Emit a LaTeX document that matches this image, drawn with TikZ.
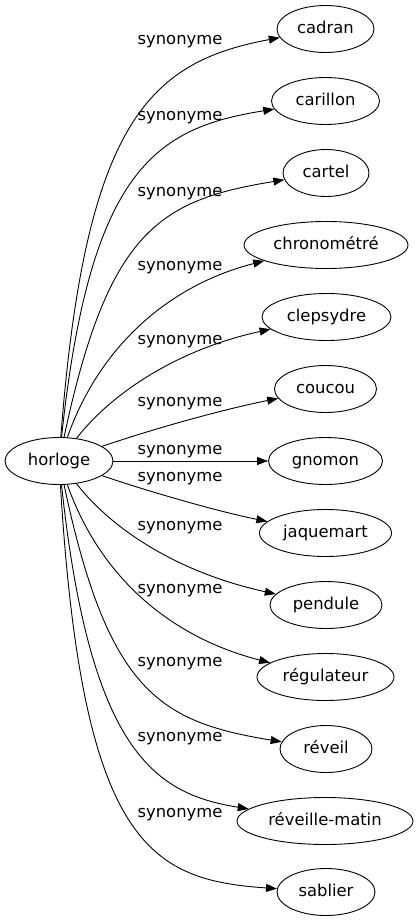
\documentclass[tikz,border=0pt]{standalone}
\usepackage{fontspec}
\setmainfont{DejaVu Sans}
\usetikzlibrary{arrows.meta,shapes.geometric}
\begin{document}
\begin{tikzpicture}[x=1pt,y=-1pt,
  every node/.style={font=\fontsize{16.4}{20}\selectfont},
  term/.style={draw, ellipse, line width=0.9pt, inner sep=0pt, minimum height=47pt, text height=12.5pt, text depth=3.9pt},
  lab/.style={anchor=base, inner sep=0pt},
  rel/.style={line width=0.9pt, -{Triangle[length=11pt,width=8pt]}}]
\useasboundingbox (0,0) rectangle (419,923);
% nodes
\node[term, minimum width=108pt] (horloge) at (59,461) {horloge};
\node[term, minimum width=97pt]  (cadran) at (325.5,29) {cadran};
\node[term, minimum width=108pt] (carillon) at (325.5,101) {carillon};
\node[term, minimum width=86pt]  (cartel) at (326,173) {cartel};
\node[term, minimum width=164pt] (chronometre) at (326,245) {chronométré};
\node[term, minimum width=129pt] (clepsydre) at (326.5,317) {clepsydre};
\node[term, minimum width=102pt] (coucou) at (325.5,389) {coucou};
\node[term, minimum width=114pt] (gnomon) at (325.5,461) {gnomon};
\node[term, minimum width=132pt] (jaquemart) at (325.5,533) {jaquemart};
\node[term, minimum width=112pt] (pendule) at (326,605) {pendule};
\node[term, minimum width=137pt] (regulateur) at (325.5,677) {régulateur};
\node[term, minimum width=92pt]  (reveil) at (326,749) {réveil};
\node[term, minimum width=176pt] (reveillematin) at (325,821) {réveille-matin};
\node[term, minimum width=98pt]  (sablier) at (326,892) {sablier};
% edges
\draw[rel] (horloge) .. controls (85,120) and (150,62) .. (cadran);
\draw[rel] (horloge) .. controls (90,170) and (155,128) .. (carillon);
\draw[rel] (horloge) .. controls (108,230) and (160,200) .. (cartel);
\draw[rel] (horloge) .. controls (100,345) and (170,285) .. (chronometre);
\draw[rel] (horloge) .. controls (110,395) and (175,350) .. (clepsydre);
\draw[rel] (horloge) .. controls (150,430) and (220,410) .. (coucou);
\draw[rel] (horloge) -- (gnomon);
\draw[rel] (horloge) .. controls (150,492) and (220,512) .. (jaquemart);
\draw[rel] (horloge) .. controls (110,527) and (175,572) .. (pendule);
\draw[rel] (horloge) .. controls (100,577) and (170,637) .. (regulateur);
\draw[rel] (horloge) .. controls (108,692) and (160,722) .. (reveil);
\draw[rel] (horloge) .. controls (90,752) and (155,794) .. (reveillematin);
\draw[rel] (horloge) .. controls (82,845) and (150,880) .. (sablier);
% labels
\node[lab] (l1) at (180,45) {synonyme};
\node[lab] (l2) at (180,121) {synonyme};
\node[lab] (l3) at (180,196) {synonyme};
\node[lab] (l4) at (180,270) {synonyme};
\node[lab] (l5) at (180,344) {synonyme};
\node[lab] (l6) at (180,406) {synonyme};
\node[lab] (l7) at (180,454) {synonyme};
\node[lab] (l8) at (180,481) {synonyme};
\node[lab] (l9) at (180,530) {synonyme};
\node[lab] (l10) at (180,593) {synonyme};
\node[lab] (l11) at (180,666) {synonyme};
\node[lab] (l12) at (180,741) {synonyme};
\node[lab] (l13) at (180,817) {synonyme};
\end{tikzpicture}
\end{document}
